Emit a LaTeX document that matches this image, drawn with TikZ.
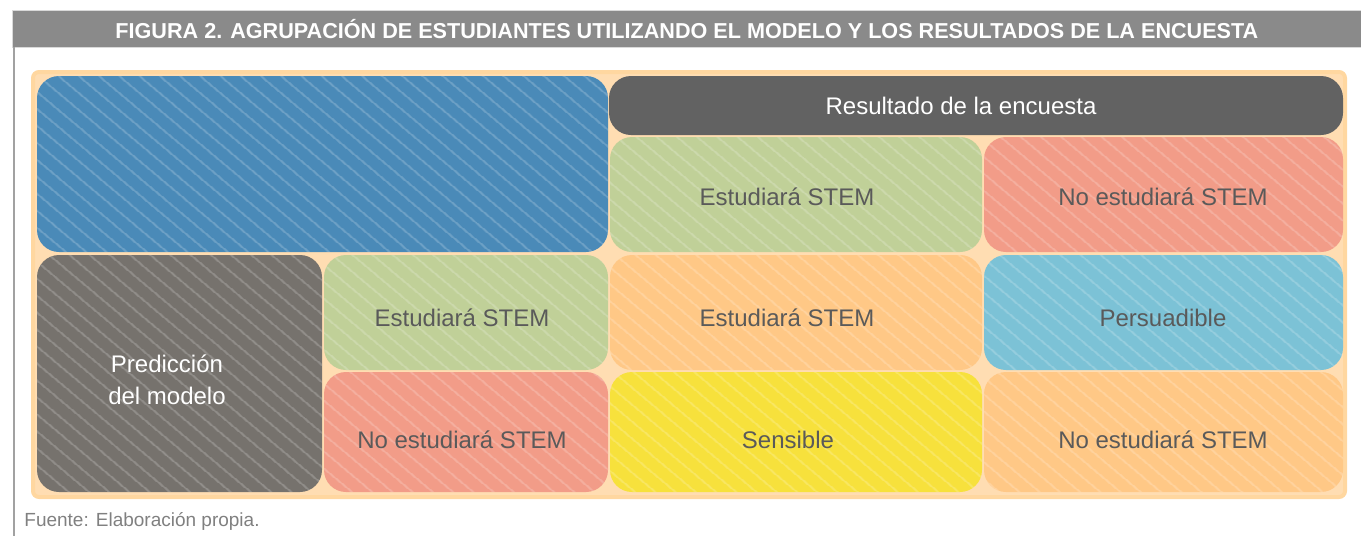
\documentclass[tikz,border=0pt]{standalone}
\usepackage{fontspec}
\setmainfont{Liberation Sans}
\usetikzlibrary{patterns.meta}
\definecolor{cblue}{HTML}{4A8AB8}
\definecolor{cdark}{HTML}{626262}
\definecolor{cgreen}{HTML}{C0D098}
\definecolor{cred}{HTML}{F29C88}
\definecolor{corange}{HTML}{FFC886}
\definecolor{ccyan}{HTML}{7CC2D6}
\definecolor{cyellow}{HTML}{F7E13C}
\definecolor{cpred}{HTML}{76726D}
\definecolor{ctext}{HTML}{5A5A5A}
\definecolor{cbar}{HTML}{8A8A8A}
\definecolor{cbg}{HTML}{FFDDB2}
\definecolor{cbgline}{HTML}{FFD7A0}
\tikzset{
  plaincell/.style={rounded corners=11pt, inner sep=0pt, outer sep=0pt},
  cell/.style={plaincell,
    postaction={pattern={Lines[angle=-40,distance=6.5pt,line width=0.9pt]}, pattern color=white, fill opacity=0.22}},
  lbl/.style={text=ctext, font=\fontsize{12}{14}\selectfont},
  wlbl/.style={text=white, align=center, font=\fontsize{12}{16}\selectfont},
}
\begin{document}
\begin{tikzpicture}[x=0.5pt,y=-0.5pt]
\useasboundingbox (0,0) rectangle (1361,536);
% title bar
\node (bar) [fill=cbar, draw=black!15, inner sep=0pt, minimum width=674.5pt, minimum height=18.5pt, anchor=north west,
  text=white, font=\bfseries\fontsize{10.8}{12}\selectfont] at (12,10)
  {FIGURA 2. AGRUPACIÓN DE ESTUDIANTES UTILIZANDO EL MODELO Y LOS RESULTADOS DE LA ENCUESTA};
\draw[cbar!80, line width=1pt] (13.5,47) -- (13.5,536);
% background
\node (bg) [fill=cbg, draw=cbgline, line width=2pt, rounded corners=3pt, minimum width=656pt, minimum height=212.5pt, inner sep=0pt] at (689,284.5) {};
% cells
\node (blue) [cell, fill=cblue, minimum width=285.5pt, minimum height=88pt] at (322.5,164) {};
\node (res) [plaincell, fill=cdark, minimum width=367pt, minimum height=29.5pt] at (976,105.5) {};
\node (resl) at (961,106) [wlbl] {Resultado de la encuesta};
\node (g1) [cell, fill=cgreen, minimum width=186pt, minimum height=57.5pt] at (796,194.5) {};
\node (g1l) at (787,197) [lbl] {Estudiará STEM};
\node (r1) [cell, fill=cred, minimum width=179.5pt, minimum height=57.5pt] at (1163.5,194.5) {};
\node (r1l) at (1163,197) [lbl] {No estudiará STEM};
\node (pred) [cell, fill=cpred, minimum width=142.5pt, minimum height=118.5pt] at (179.5,373.5) {};
\node (predl) at (167,380) [wlbl] {Predicción\\del modelo};
\node (g2) [cell, fill=cgreen, minimum width=142pt, minimum height=57.5pt] at (466,312.5) {};
\node (g2l) at (462,318) [lbl] {Estudiará STEM};
\node (o2) [cell, fill=corange, minimum width=186pt, minimum height=57.5pt] at (796,312.5) {};
\node (o2l) at (787,318) [lbl] {Estudiará STEM};
\node (c2) [cell, fill=ccyan, minimum width=179.5pt, minimum height=57.5pt] at (1163.5,312.5) {};
\node (c2l) at (1163,318) [lbl] {Persuadible};
\node (r3) [cell, fill=cred, minimum width=142pt, minimum height=60pt] at (466,432) {};
\node (r3l) at (462,440) [lbl] {No estudiará STEM};
\node (y3) [cell, fill=cyellow, minimum width=186pt, minimum height=60pt] at (796,432) {};
\node (y3l) at (788,440) [lbl] {Sensible};
\node (o3) [cell, fill=corange, minimum width=179.5pt, minimum height=60pt] at (1163.5,432) {};
\node (o3l) at (1163,440) [lbl] {No estudiará STEM};
% source
\node (src) [anchor=west, text=black!50, inner sep=0pt, font=\fontsize{9.5}{11}\selectfont] at (24,521) {Fuente: Elaboración propia.};
\end{tikzpicture}
\end{document}
